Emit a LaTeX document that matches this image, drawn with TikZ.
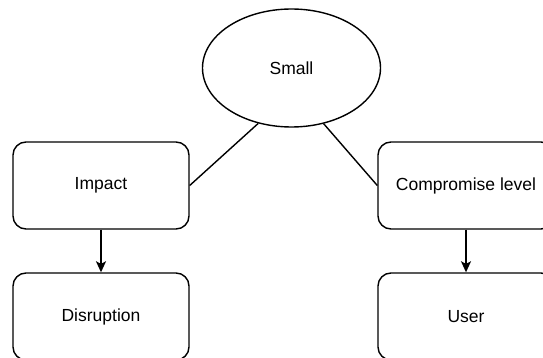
\documentclass[tikz,border=0pt]{standalone}
\usepackage{fontspec}
\setmainfont{Liberation Sans}
\usetikzlibrary{shapes.geometric,arrows.meta}
\begin{document}
\begin{tikzpicture}[x=1pt,y=-1pt,
  every node/.style={font=\fontsize{17.5}{20}\selectfont, inner sep=0pt},
  box/.style={draw, line width=1.4pt, rounded corners=13pt, minimum width=176pt, minimum height=87pt},
  oval/.style={draw, ellipse, line width=1.4pt, minimum width=178pt, minimum height=118pt},
  link/.style={line width=1.4pt},
  flow/.style={line width=1.4pt, -{Stealth[length=11pt,width=10pt,inset=2.5pt]}}]
  \useasboundingbox (0,0) rectangle (543,358);
  \clip (0,0) rectangle (543,358);
  \node[oval] (small) at (291.5,68) {Small};
  \node[box] (impact) at (101,185.5) {Impact};
  \node[box] (comp) at (466,185.5) {Compromise level};
  \node[box] (disr) at (101,316.5) {Disruption};
  \node[box] (user) at (466,316.5) {User};
  \draw[link] (small.239) -- (impact.east);
  \draw[link] (small.300) -- (comp.west);
  \draw[flow] (impact) -- (disr);
  \draw[flow] (comp) -- (user);
\end{tikzpicture}
\end{document}
